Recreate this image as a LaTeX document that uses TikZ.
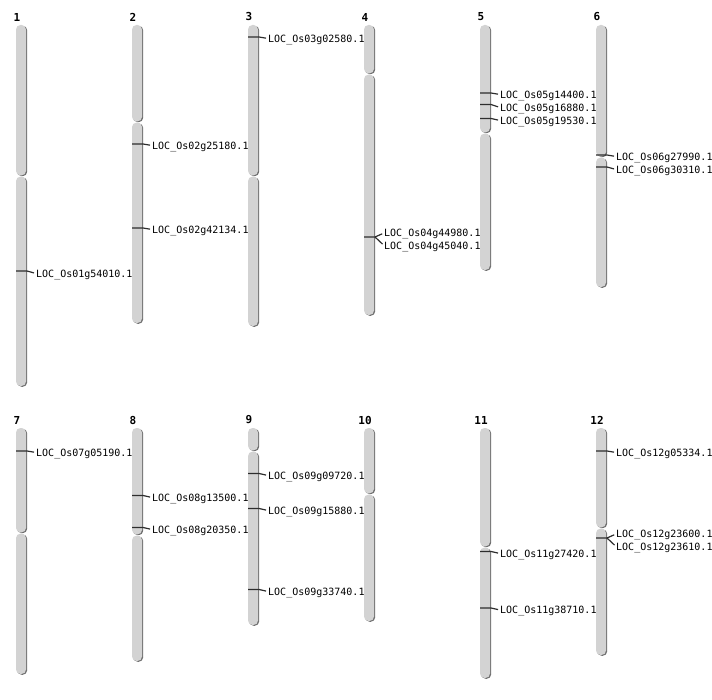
\documentclass[tikz,border=0pt]{standalone}
\usepackage{fontspec}
\setmonofont{DejaVu Sans Mono}
\usepackage{xcolor}
\usepackage{tikz}
\usetikzlibrary{positioning,calc}

% one chromosome: number, centre x, top, centromere, bottom
\newcommand{\chrom}[5]{%
  \fill[chrshade] (#2-3.8,#3+0.8) rectangle (#2+6.2,#4+0.2);
  \fill[chrshade] (#2-3.8,#4+1.4) rectangle (#2+6.2,#5+0.8);
  \fill[chrbody]  (#2-5,#3) rectangle (#2+5,#4-0.6);
  \fill[chrbody]  (#2-5,#4+0.6) rectangle (#2+5,#5);
  \node[chrnum] (n#1) at (#2-4,#3-8) {#1};
}

\begin{document}
\begin{tikzpicture}[x=1pt,y=-1pt]
  \definecolor{chrgray}{RGB}{211,211,211}
  \definecolor{chrdark}{RGB}{112,112,112}
  \definecolor{mkgray}{RGB}{45,45,45}
  \tikzset{
    chrbody/.style={fill=chrgray, rounded corners=4.5pt},
    chrshade/.style={fill=chrdark, rounded corners=4.5pt},
    chrnum/.style={font=\ttfamily\bfseries\fontsize{11}{13}\selectfont, inner sep=0pt},
    loc/.style={anchor=west, inner sep=0pt, text height=7.3pt, text depth=0pt,
      font=\ttfamily\fontsize{10}{12}\selectfont},
    mk/.style={draw=mkgray, line width=1.2pt, shorten >=2pt}
  }
  \useasboundingbox (0,0) rectangle (712,700);

  % ======= top row: chromosomes 1-6 =======
  \chrom{1}{21}{25}{176}{386}
  \chrom{2}{137}{25}{122}{323}
  \chrom{3}{253}{25}{176}{326}
  \chrom{4}{369}{25}{74}{315}
  \chrom{5}{485}{25}{133}{270}
  \chrom{6}{601}{25}{157}{287}

  % ======= bottom row: chromosomes 7-12 =======
  \chrom{7}{21}{428}{533}{674}
  \chrom{8}{137}{428}{535}{661}
  \chrom{9}{253}{428}{451}{625}
  \chrom{10}{369}{428}{494}{621}
  \chrom{11}{485}{428}{547}{678}
  \chrom{12}{601}{428}{528}{655}

  % ======= markers =======
  \coordinate (m1a) at (16,271);
  \node[loc] (g1a) at (36,273.5) {LOC\_Os01g54010.1};
  \draw[mk] (m1a) -- ++(11,0) -- (g1a.west);

  \coordinate (m2a) at (132,144);
  \node[loc] (g2a) at (152,145.5) {LOC\_Os02g25180.1};
  \draw[mk] (m2a) -- ++(11,0) -- (g2a.west);
  \coordinate (m2b) at (132,228);
  \node[loc] (g2b) at (152,229.5) {LOC\_Os02g42134.1};
  \draw[mk] (m2b) -- ++(11,0) -- (g2b.west);

  \coordinate (m3a) at (248,37);
  \node[loc] (g3a) at (268,38.5) {LOC\_Os03g02580.1};
  \draw[mk] (m3a) -- ++(11,0) -- (g3a.west);

  \coordinate (m4a) at (364,237);
  \node[loc] (g4a) at (384,233) {LOC\_Os04g44980.1};
  \node[loc] (g4b) at (384,245.5) {LOC\_Os04g45040.1};
  \draw[mk] (m4a) -- ++(11,0) coordinate (k4) -- (g4a.west);
  \draw[mk] (k4) -- (g4b.west);

  \coordinate (m5a) at (480,93);
  \node[loc] (g5a) at (500,94.5) {LOC\_Os05g14400.1};
  \draw[mk] (m5a) -- ++(11,0) -- (g5a.west);
  \coordinate (m5b) at (480,104.5);
  \node[loc] (g5b) at (500,107.5) {LOC\_Os05g16880.1};
  \draw[mk] (m5b) -- ++(11,0) -- (g5b.west);
  \coordinate (m5c) at (480,118.5);
  \node[loc] (g5c) at (500,120.5) {LOC\_Os05g19530.1};
  \draw[mk] (m5c) -- ++(11,0) -- (g5c.west);

  \coordinate (m6a) at (596,155);
  \node[loc] (g6a) at (616,156.5) {LOC\_Os06g27990.1};
  \draw[mk] (m6a) -- ++(11,0) -- (g6a.west);
  \coordinate (m6b) at (596,167);
  \node[loc] (g6b) at (616,169.5) {LOC\_Os06g30310.1};
  \draw[mk] (m6b) -- ++(11,0) -- (g6b.west);

  \coordinate (m7a) at (16,451);
  \node[loc] (g7a) at (36,452.5) {LOC\_Os07g05190.1};
  \draw[mk] (m7a) -- ++(11,0) -- (g7a.west);

  \coordinate (m8a) at (132,495.5);
  \node[loc] (g8a) at (152,497.5) {LOC\_Os08g13500.1};
  \draw[mk] (m8a) -- ++(11,0) -- (g8a.west);
  \coordinate (m8b) at (132,527.5);
  \node[loc] (g8b) at (152,529.5) {LOC\_Os08g20350.1};
  \draw[mk] (m8b) -- ++(11,0) -- (g8b.west);

  \coordinate (m9a) at (248,473.5);
  \node[loc] (g9a) at (268,475.5) {LOC\_Os09g09720.1};
  \draw[mk] (m9a) -- ++(11,0) -- (g9a.west);
  \coordinate (m9b) at (248,508.5);
  \node[loc] (g9b) at (268,510.5) {LOC\_Os09g15880.1};
  \draw[mk] (m9b) -- ++(11,0) -- (g9b.west);
  \coordinate (m9c) at (248,589.5);
  \node[loc] (g9c) at (268,591.5) {LOC\_Os09g33740.1};
  \draw[mk] (m9c) -- ++(11,0) -- (g9c.west);

  \coordinate (m11a) at (480,551.5);
  \node[loc] (g11a) at (500,553.5) {LOC\_Os11g27420.1};
  \draw[mk] (m11a) -- ++(11,0) -- (g11a.west);
  \coordinate (m11b) at (480,608);
  \node[loc] (g11b) at (500,610) {LOC\_Os11g38710.1};
  \draw[mk] (m11b) -- ++(11,0) -- (g11b.west);

  \coordinate (m12a) at (596,451);
  \node[loc] (g12a) at (616,452.5) {LOC\_Os12g05334.1};
  \draw[mk] (m12a) -- ++(11,0) -- (g12a.west);
  \coordinate (m12b) at (596,538);
  \node[loc] (g12b) at (616,534) {LOC\_Os12g23600.1};
  \node[loc] (g12c) at (616,546.5) {LOC\_Os12g23610.1};
  \draw[mk] (m12b) -- ++(11,0) coordinate (k12) -- (g12b.west);
  \draw[mk] (k12) -- (g12c.west);
\end{tikzpicture}
\end{document}
